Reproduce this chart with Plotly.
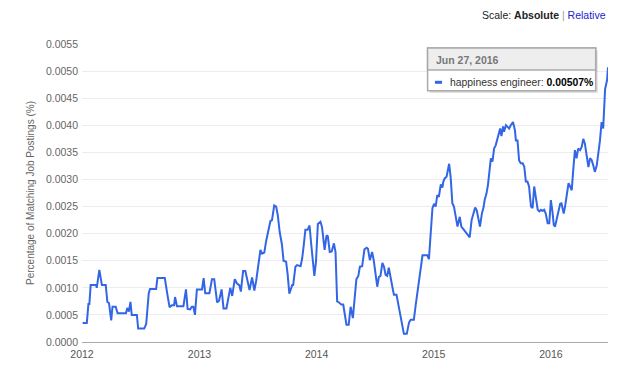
import pandas as pd
import plotly.graph_objects as go

# ---- data (days since 2012-01-01, percentage values) ----
start_date = "2012-01-01"
days_since_start = [
    2, 15, 20, 23, 27, 44, 46, 54, 62, 74, 79, 84, 91, 95, 105, 111, 137, 141, 146, 151,
    155, 171, 175, 194, 200, 208, 212, 231, 235, 258, 266, 273, 280, 287, 290, 296, 316, 324, 329, 337,
    342, 347, 352, 358, 374, 379, 384, 397, 405, 412, 421, 427, 435, 441, 450, 457, 462, 468, 476, 483,
    490, 495, 502, 509, 516, 522, 530, 537, 543, 550, 556, 561, 568, 574, 582, 587, 592, 599, 605, 610,
    616, 623, 628, 636, 641, 646, 655, 658, 665, 670, 681, 686, 691, 696, 703, 709, 714, 720, 724, 729,
    735, 743, 748, 756, 762, 766, 772, 778, 785, 790, 795, 801, 808, 814, 819, 824, 831, 837, 844, 849,
    855, 861, 866, 873, 880, 887, 891, 897, 904, 909, 916, 920, 925, 930, 936, 941, 946, 951, 956, 962,
    967, 972, 980, 988, 993, 998, 1003, 1012, 1019, 1024, 1034, 1040, 1045, 1050, 1055, 1061, 1068, 1076, 1081, 1087,
    1092, 1097, 1102, 1107, 1112, 1118, 1123, 1126, 1130, 1136, 1144, 1149, 1154, 1159, 1165, 1170, 1177, 1182, 1189, 1196,
    1203, 1208, 1214, 1220, 1225, 1230, 1234, 1240, 1246, 1251, 1255, 1260, 1265, 1271, 1274, 1279, 1284, 1289, 1295, 1300,
    1303, 1307, 1312, 1315, 1321, 1326, 1331, 1336, 1343, 1349, 1352, 1357, 1362, 1367, 1373, 1378, 1383, 1388, 1393, 1399,
    1404, 1409, 1414, 1420, 1425, 1430, 1435, 1440, 1445, 1451, 1456, 1461, 1466, 1470, 1474, 1480, 1484, 1490, 1494, 1501,
    1506, 1511, 1516, 1521, 1526, 1531, 1536, 1541, 1546, 1552, 1557, 1562, 1567, 1573, 1578, 1583, 1588, 1593, 1598, 1604,
    1609, 1614, 1619, 1624, 1630, 1636, 1639,
]
happiness_engineer = [
    0.00035, 0.00035, 0.00070, 0.00070, 0.00105, 0.00105, 0.00100, 0.00133, 0.00105, 0.00105,
    0.00074, 0.00072, 0.00040, 0.00065, 0.00065, 0.00053, 0.00053, 0.00063, 0.00056, 0.00074,
    0.00050, 0.00050, 0.00025, 0.00025, 0.00033, 0.00090, 0.00098, 0.00098, 0.00118, 0.00118,
    0.00088, 0.00064, 0.00068, 0.00068, 0.00083, 0.00066, 0.00066, 0.00097, 0.00061, 0.00060,
    0.00065, 0.00065, 0.00050, 0.00097, 0.00097, 0.00118, 0.00090, 0.00090, 0.00116, 0.00116,
    0.00073, 0.00076, 0.00097, 0.00062, 0.00062, 0.00087, 0.00100, 0.00085, 0.00116, 0.00108,
    0.00105, 0.00093, 0.00131, 0.00131, 0.00108, 0.00096, 0.00119, 0.00095, 0.00114, 0.00148,
    0.00170, 0.00163, 0.00165, 0.00187, 0.00209, 0.00223, 0.00225, 0.00252, 0.00250, 0.00234,
    0.00203, 0.00180, 0.00150, 0.00148, 0.00124, 0.00089, 0.00105, 0.00105, 0.00139, 0.00142,
    0.00140, 0.00154, 0.00179, 0.00207, 0.00207, 0.00215, 0.00182, 0.00152, 0.00122, 0.00148,
    0.00218, 0.00222, 0.00212, 0.00170, 0.00197, 0.00195, 0.00166, 0.00167, 0.00182, 0.00166,
    0.00075, 0.00073, 0.00069, 0.00069, 0.00047, 0.00032, 0.00032, 0.00065, 0.00044, 0.00072,
    0.00116, 0.00122, 0.00139, 0.00140, 0.00171, 0.00174, 0.00172, 0.00151, 0.00166, 0.00151,
    0.00114, 0.00102, 0.00120, 0.00122, 0.00146, 0.00139, 0.00124, 0.00122, 0.00137, 0.00114,
    0.00102, 0.00087, 0.00087, 0.00062, 0.00044, 0.00029, 0.00015, 0.00015, 0.00036, 0.00041,
    0.00041, 0.00069, 0.00090, 0.00113, 0.00130, 0.00160, 0.00160, 0.00160, 0.00153, 0.00200,
    0.00247, 0.00255, 0.00250, 0.00271, 0.00268, 0.00291, 0.00285, 0.00296, 0.00302, 0.00305,
    0.00329, 0.00302, 0.00256, 0.00250, 0.00230, 0.00213, 0.00231, 0.00213, 0.00208, 0.00202,
    0.00198, 0.00193, 0.00225, 0.00237, 0.00248, 0.00243, 0.00228, 0.00213, 0.00237, 0.00248,
    0.00263, 0.00273, 0.00290, 0.00320, 0.00339, 0.00333, 0.00357, 0.00363, 0.00375, 0.00386,
    0.00394, 0.00380, 0.00398, 0.00388, 0.00400, 0.00397, 0.00394, 0.00400, 0.00406, 0.00391,
    0.00372, 0.00372, 0.00335, 0.00330, 0.00330, 0.00324, 0.00296, 0.00296, 0.00287, 0.00250,
    0.00247, 0.00287, 0.00268, 0.00244, 0.00241, 0.00244, 0.00242, 0.00244, 0.00237, 0.00219,
    0.00219, 0.00262, 0.00240, 0.00216, 0.00213, 0.00228, 0.00244, 0.00255, 0.00256, 0.00237,
    0.00253, 0.00274, 0.00293, 0.00287, 0.00280, 0.00320, 0.00354, 0.00339, 0.00357, 0.00354,
    0.00360, 0.00375, 0.00366, 0.00342, 0.00323, 0.00339, 0.00336, 0.00326, 0.00314, 0.00326,
    0.00348, 0.00372, 0.00406, 0.00394, 0.00467, 0.00483, 0.00507,
]
series_name = "happiness engineer"
y_tick_values = [0.0, 0.0005, 0.0010, 0.0015, 0.0020, 0.0025, 0.0030, 0.0035, 0.0040, 0.0045, 0.0050, 0.0055]
x_tick_labels = ["2012", "2013", "2014", "2015", "2016"]
tooltip_date = "Jun 27, 2016"
tooltip_value = "0.00507%"
y_title = "Percentage of Matching Job Postings (%)"

dates = pd.Timestamp(start_date) + pd.to_timedelta(days_since_start, unit="D")

FONT = "Helvetica Neue, Liberation Sans, Arial, sans-serif"
LINE_BLUE = "#3366e6"

fig = go.Figure()
fig.add_trace(go.Scatter(
    x=dates, y=happiness_engineer, mode="lines", name=series_name,
    line=dict(color=LINE_BLUE, width=2), hoverinfo="skip",
))

# The page body has an 8px default margin, so the figure is sized/offset to compensate.
fig.update_layout(
    width=632, height=366,
    margin=dict(l=74, r=32, t=36, b=32),
    paper_bgcolor="white", plot_bgcolor="white",
    showlegend=False, hovermode=False,
    font=dict(family=FONT, size=10.5, color="#666666"),
    xaxis=dict(
        range=[pd.Timestamp("2012-01-01"), dates[-1]],
        tickvals=[pd.Timestamp(f"{y}-01-01") for y in x_tick_labels],
        ticktext=x_tick_labels,
        showgrid=False, zeroline=False, automargin=False,
        showline=True, linecolor="#aaaaaa", linewidth=1,
        ticks="", ticklabelstandoff=2,
        tickfont=dict(size=10.5, color="#555555"),
    ),
    yaxis=dict(
        range=[0, 0.0055],
        tickvals=y_tick_values,
        ticktext=[f"{v:.4f}" for v in y_tick_values],
        showgrid=True, gridcolor="#ececec", gridwidth=1,
        zeroline=False, showline=False, ticks="", automargin=False,
        ticklabelstandoff=3,
        tickfont=dict(size=10.5, color="#666666"),
        title=dict(text=y_title, font=dict(size=10, color="#666666"), standoff=9),
    ),
)

# Tooltip box (paper coordinates)
tx0, tx1, ty0, ty1, tdiv = 0.657, 0.9766, 0.8433, 0.9866, 0.9128
fig.add_shape(type="rect", xref="paper", yref="paper", x0=tx0 + 0.004, x1=tx1 + 0.004,
              y0=ty0 - 0.008, y1=ty1 - 0.008, line=dict(width=0), fillcolor="rgba(0,0,0,0.12)", layer="above")
fig.add_shape(type="rect", xref="paper", yref="paper", x0=tx0, x1=tx1, y0=ty0, y1=ty1,
              line=dict(color="#aaaaaa", width=1.5), fillcolor="white", layer="above")
fig.add_shape(type="rect", xref="paper", yref="paper", x0=tx0, x1=tx1, y0=tdiv, y1=ty1,
              line=dict(color="#aaaaaa", width=1.5), fillcolor="#eeeeee", layer="above")
fig.add_shape(type="line", xref="paper", yref="paper", x0=0.671, x1=0.6844, y0=0.8715, y1=0.8715,
              line=dict(color=LINE_BLUE, width=3), layer="above")
fig.add_annotation(xref="paper", yref="paper", x=0.669, y=0.9463, xanchor="left", yanchor="middle",
                   text=f"<b>{tooltip_date}</b>", showarrow=False,
                   font=dict(size=10.5, color="#777777", family=FONT))
fig.add_annotation(xref="paper", yref="paper", x=0.6957, y=0.8715, xanchor="left", yanchor="middle",
                   text=f"{series_name}: <b style='color:#000'>{tooltip_value}</b>", showarrow=False,
                   font=dict(size=10.4, color="#333333", family=FONT))

# Scale selector text
fig.add_annotation(xref="paper", yref="paper", x=1.0, y=1.097, xanchor="right", yanchor="middle",
                   text="Scale: <b>Absolute</b> <span style='color:#999'>|</span> <span style='color:#2222cc'>Relative</span>",
                   showarrow=False, font=dict(size=10.5, color="#222222", family=FONT))

fig.write_html("out.html")
